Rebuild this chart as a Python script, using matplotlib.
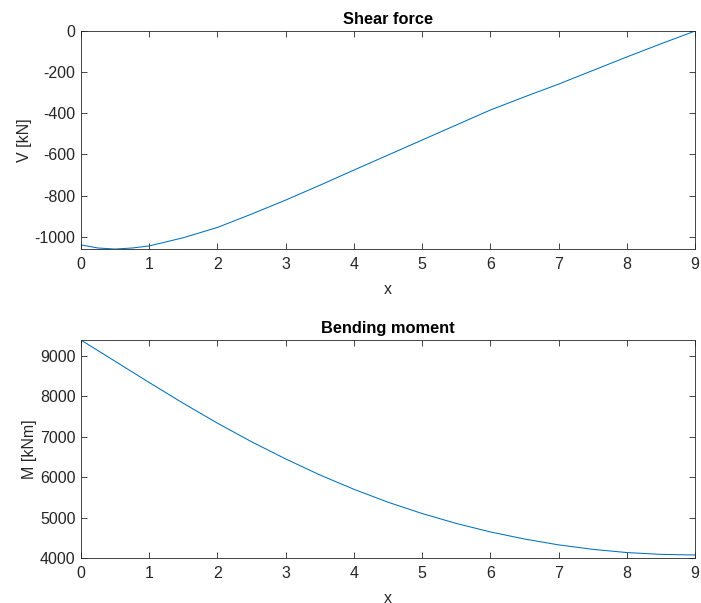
import numpy as np
import matplotlib as mpl
import matplotlib.pyplot as plt

# beam position [m]
x_v = [0, 0.25, 0.5, 0.75, 1, 1.5, 2, 2.5, 3, 3.5, 4, 4.5, 5, 5.5, 6, 6.5, 7, 7.5, 8, 8.5, 9]
shear = [-1040, -1055, -1060, -1055, -1045, -1005, -955, -890, -822, -750, -676,
         -603, -530, -457, -384, -320, -258, -192, -126, -62, 0]

x_m = [0, 0.5, 1, 1.5, 2, 2.5, 3, 3.5, 4, 4.5, 5, 5.5, 6, 6.5, 7, 7.5, 8, 8.5, 9]
moment = [9390, 8865, 8340, 7825, 7335, 6875, 6450, 6055, 5700, 5380, 5100, 4855,
          4645, 4470, 4325, 4215, 4135, 4090, 4075]

mpl.rcParams['font.family'] = ['Liberation Sans', 'DejaVu Sans']
mpl.rcParams['axes.unicode_minus'] = False
mpl.rcParams['font.size'] = 11.5
mpl.rcParams['axes.edgecolor'] = '#262626'
mpl.rcParams['axes.linewidth'] = 0.6
mpl.rcParams['xtick.color'] = '#262626'
mpl.rcParams['ytick.color'] = '#262626'
mpl.rcParams['xtick.direction'] = 'in'
mpl.rcParams['ytick.direction'] = 'in'
mpl.rcParams['xtick.top'] = True
mpl.rcParams['ytick.right'] = True
mpl.rcParams['xtick.major.size'] = 4
mpl.rcParams['ytick.major.size'] = 4
mpl.rcParams['xtick.major.width'] = 0.6
mpl.rcParams['ytick.major.width'] = 0.6

fig = plt.figure(figsize=(7.01, 6.03), dpi=100)
ax1 = fig.add_axes([0.1155, 0.587, 0.876, 0.3615])
ax2 = fig.add_axes([0.1155, 0.0746, 0.876, 0.3615])

ax1.plot(x_v, shear, color='#0072BD', lw=0.75)
ax1.set_xlim(0, 9)
ax1.set_ylim(min(shear), 0)
ax1.set_yticks([-1000, -800, -600, -400, -200, 0])
ax1.set_title('Shear force', fontweight='bold', fontsize=11.8, color='black', pad=5)
ax1.set_xlabel('x', color='#262626', labelpad=7)
ax1.set_ylabel('V [kN]', color='#262626', labelpad=2)

ax2.plot(x_m, moment, color='#0072BD', lw=0.75)
ax2.set_xlim(0, 9)
ax2.set_ylim(4000, max(moment))
ax2.set_yticks([4000, 5000, 6000, 7000, 8000, 9000])
ax2.set_title('Bending moment', fontweight='bold', fontsize=11.8, color='black', pad=5)
ax2.set_xlabel('x', color='#262626', labelpad=7)
ax2.set_ylabel('M [kNm]', color='#262626', labelpad=2)

for ax in (ax1, ax2):
    ax.set_xticks(range(10))
    ax.tick_params(labelsize=11.5, pad=6)
    ax.tick_params(axis='y', pad=4)

fig.savefig('out.png', dpi=100)
